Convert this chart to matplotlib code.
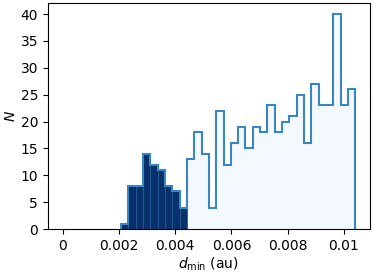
import numpy as np
import matplotlib
matplotlib.use("Agg")
import matplotlib.pyplot as plt

# histogram counts (40 bins from 0 to 0.0104 au)
bin_lo = 0.0
bin_hi = 0.0104
n_bins = 40
counts_all = [0, 0, 0, 0, 0, 0, 0, 0,
              1, 8, 8, 14, 12, 11, 8, 7, 4,
              13, 18, 14, 4, 22, 12, 16, 19, 15, 19, 18, 23, 18, 20, 21, 25,
              16, 27, 23, 23, 40, 23, 26]
n_dark = 17  # bins belonging to the dark (subset) histogram
first_filled = 8  # first non-empty bin

edges = np.linspace(bin_lo, bin_hi, n_bins + 1)
centers = 0.5 * (edges[:-1] + edges[1:])
counts_all = np.array(counts_all, dtype=float)
counts_dark = counts_all.copy()
counts_dark[n_dark:] = 0

fig = plt.figure(figsize=(3.74, 2.72), dpi=100)
ax = fig.add_axes([0.128, 0.158, 0.861, 0.830])

e2 = edges[first_filled:]
c2 = centers[first_filled:]
w2 = counts_all[first_filled:]
ax.hist(c2, bins=e2, weights=w2, histtype='stepfilled',
        color='#f4f9ff', edgecolor='none')
ax.hist(centers, bins=edges, weights=counts_dark, histtype='bar',
        color='#08306b', edgecolor='#1f5a99', linewidth=0.6, rwidth=1.0)
ax.hist(c2, bins=e2, weights=w2, histtype='step',
        color='#3a86c2', linewidth=1.5)

ax.set_xlim(-0.00052, 0.01092)
ax.set_ylim(0, 42)
ax.set_xticks([0, 0.002, 0.004, 0.006, 0.008, 0.01])
ax.set_xticklabels(['0', '0.002', '0.004', '0.006', '0.008', '0.01'])
ax.set_yticks([0, 5, 10, 15, 20, 25, 30, 35, 40])
ax.tick_params(labelsize=10)
ax.set_xlabel(r'$d_{\rm min}$ (au)', fontsize=10, labelpad=2)
ax.set_ylabel(r'$N$', fontsize=10, labelpad=2)

fig.savefig('out.png', dpi=100)
